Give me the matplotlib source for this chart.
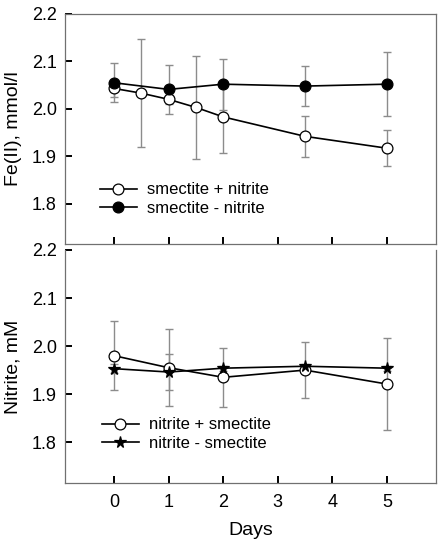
import matplotlib
matplotlib.use("Agg")
import matplotlib.pyplot as plt
import numpy as np

plt.rcParams["font.family"] = ["Liberation Sans", "DejaVu Sans"]
plt.rcParams["font.size"] = 12

# top panel: Fe(II)
fe_plus_days = [0, 0.5, 1, 1.5, 2, 3.5, 5]
fe_plus = [2.043, 2.033, 2.020, 2.003, 1.983, 1.942, 1.917]
fe_plus_err = [0.018, 0.114, 0.010, 0.108, 0.076, 0.043, 0.038]

fe_minus_days = [0, 1, 2, 3.5, 5]
fe_minus = [2.055, 2.041, 2.052, 2.048, 2.052]
fe_minus_err = [0.041, 0.051, 0.054, 0.042, 0.067]

# bottom panel: nitrite
no2_days = [0, 1, 2, 3.5, 5]
no2_plus = [1.980, 1.955, 1.935, 1.950, 1.921]
no2_plus_err = [0.072, 0.080, 0.061, 0.059, 0.095]
no2_minus = [1.953, 1.946, 1.954, 1.958, 1.954]
no2_minus_err = [0.009, 0.038, 0.005, 0.005, 0.005]

yticks = [1.8, 1.9, 2.0, 2.1, 2.2]
xticks = [0, 1, 2, 3, 4, 5]

W, H = 443, 546
fig = plt.figure(figsize=(W / 100, H / 100), dpi=100)

def px_axes(left, top, right, bottom):
    return fig.add_axes([left / W, 1 - bottom / H, (right - left) / W, (bottom - top) / H])

ax1 = px_axes(65, 14, 436, 244)
ax2 = px_axes(65, 250, 436, 483)

ERR = "#8c8c8c"
SPINE = "#707070"

def series(ax, x, y, e, marker, mfc, ms, label):
    ax.errorbar(x, y, yerr=e, fmt="none", ecolor=ERR, elinewidth=1.0,
                capsize=2.6, capthick=1.0, zorder=2)
    ax.plot(x, y, color="black", lw=1.2, marker=marker, ms=ms, mfc=mfc,
            mec="black", mew=0.9, label=label, zorder=3)

series(ax1, fe_plus_days, fe_plus, fe_plus_err, "o", "white", 7.8, "smectite + nitrite")
series(ax1, fe_minus_days, fe_minus, fe_minus_err, "o", "black", 7.8, "smectite - nitrite")
series(ax2, no2_days, no2_plus, no2_plus_err, "o", "white", 7.8, "nitrite + smectite")
series(ax2, no2_days, no2_minus, no2_minus_err, "*", "black", 8.5, "nitrite - smectite")

for ax in (ax1, ax2):
    ax.set_xlim(-0.9, 5.9)
    ax.set_ylim(1.715, 2.2)
    ax.set_yticks(yticks)
    ax.set_yticklabels([f"{v:.1f}" for v in yticks])
    ax.set_xticks(xticks)
    for s in ax.spines.values():
        s.set_color(SPINE)
        s.set_linewidth(0.9)
    ax.tick_params(axis="both", direction="in", length=5, width=1.4,
                   color="black", labelsize=13, top=False, right=False)
    ax.tick_params(axis="y", pad=6)

ax1.tick_params(axis="x", labelbottom=False)
ax2.spines["top"].set_visible(False)
ax2.tick_params(axis="x", pad=8)

ax1.set_ylabel("Fe(II), mmol/l", fontsize=14)
ax2.set_ylabel("Nitrite, mM", fontsize=14)
ax2.set_xlabel("Days", fontsize=14, labelpad=8)
ax1.yaxis.set_label_coords(-0.116, 0.5)
ax2.yaxis.set_label_coords(-0.116, 0.5)

leg_kw = dict(loc="center left", frameon=False, borderpad=0, borderaxespad=0,
              handlelength=2.2, handletextpad=0.6, labelspacing=0.2, fontsize=12)
ax1.legend(bbox_to_anchor=(100 / W, 1 - 199 / H), bbox_transform=fig.transFigure, **leg_kw)
ax2.legend(bbox_to_anchor=(102 / W, 1 - 434 / H), bbox_transform=fig.transFigure, **leg_kw)

fig.savefig("out.png", dpi=100)
